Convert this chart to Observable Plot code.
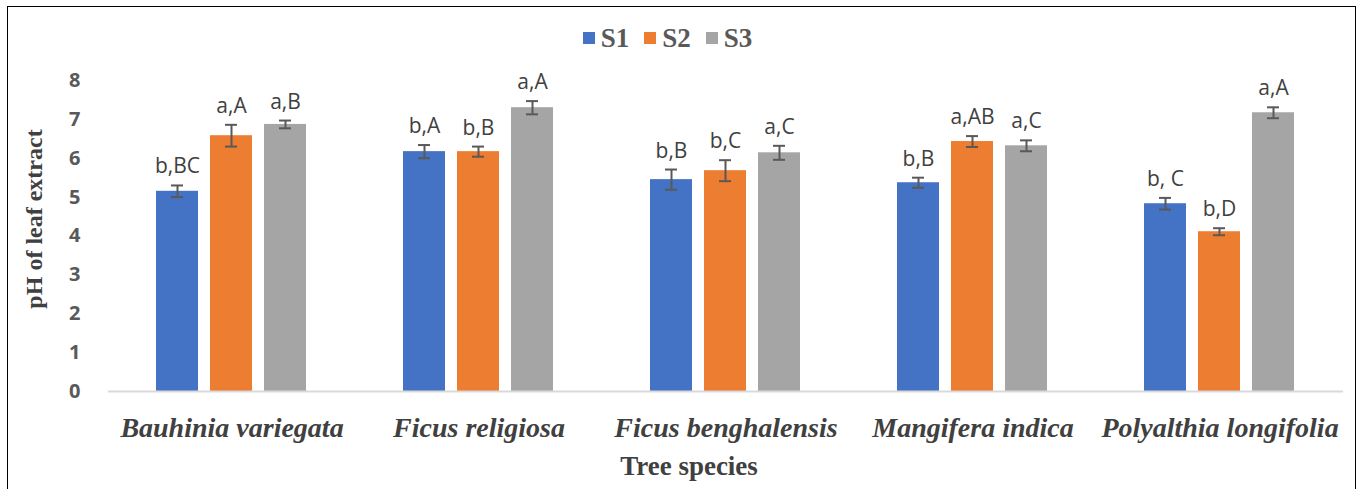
<!DOCTYPE html>
<html><head><meta charset="utf-8">
<script src="https://cdn.jsdelivr.net/npm/d3@7"></script>
<script src="https://cdn.jsdelivr.net/npm/@observablehq/plot@0.6"></script>
<style>
html,body{margin:0;padding:0;background:#fff;overflow:hidden;}
#frame{position:absolute;left:7px;top:6px;width:1347px;height:600px;border:1px solid #000;background:#fff;}
#legend{box-sizing:border-box;height:58px;padding-top:4px;display:flex;justify-content:center;align-items:center;gap:15px;transform:translateX(-14px);font-family:"Liberation Serif",serif;font-weight:bold;font-size:27px;color:#595959;}
.item{display:flex;align-items:center;gap:6px}
.sw{width:12px;height:12px;display:inline-block}
#chart svg{display:block}
</style></head><body>
<div id="frame"><div id="legend"></div><div id="chart"></div></div>
<script>
const species = ["Bauhinia variegata", "Ficus religiosa", "Ficus benghalensis", "Mangifera indica", "Polyalthia longifolia"];
const series = ["S1", "S2", "S3"];
const colors = ["#4472C4", "#ED7D31", "#A5A5A5"];
const meanS1 = [5.15, 6.17, 5.45, 5.37, 4.83];
const meanS2 = [6.58, 6.17, 5.68, 6.43, 4.11];
const meanS3 = [6.87, 7.30, 6.14, 6.32, 7.17];
const errS1 = [0.15, 0.17, 0.26, 0.13, 0.15];
const errS2 = [0.28, 0.13, 0.27, 0.14, 0.09];
const errS3 = [0.10, 0.17, 0.18, 0.14, 0.14];
const letS1 = ["b,BC", "b,A", "b,B", "b,B", "b, C"];
const letS2 = ["a,A", "b,B", "b,C", "a,AB", "b,D"];
const letS3 = ["a,B", "a,A", "a,C", "a,C", "a,A"];
const yTicks = [0, 1, 2, 3, 4, 5, 6, 7, 8];
const yTitle = "pH of leaf extract";
const xTitle = "Tree species";

const means = [meanS1, meanS2, meanS3];
const errs = [errS1, errS2, errS3];
const lets = [letS1, letS2, letS3];
const data = [];
species.forEach((sp, i) => {
  series.forEach((s, j) => {
    data.push({species: sp, series: s, mean: means[j][i], err: errs[j][i], label: lets[j][i]});
  });
});

// legend
const legend = document.getElementById("legend");
series.forEach((s, j) => {
  const it = document.createElement("span");
  it.className = "item";
  const sw = document.createElement("span");
  sw.className = "sw";
  sw.style.background = colors[j];
  const t = document.createElement("span");
  t.textContent = s;
  it.appendChild(sw); it.appendChild(t);
  legend.appendChild(it);
});

const errStyle = {stroke: "#595959", strokeWidth: 2};
const titleStyle = {fontWeight: "bold", fontFamily: "Liberation Serif", fill: "#404040", lineAnchor: "middle", textAnchor: "middle"};
const chart = Plot.plot({
  width: 1347, height: 430,
  marginTop: 15, marginBottom: 104, marginLeft: 100, marginRight: 12,
  fx: {domain: species, paddingInner: 0, paddingOuter: 0, label: null, axis: null},
  x: {domain: series, paddingInner: 0.218, paddingOuter: 0.855, axis: null},
  y: {domain: [0, 8], axis: null},
  color: {domain: series, range: colors},
  marks: [
    Plot.barY(data, {fx: "species", x: "series", y: "mean", fill: "series"}),
    Plot.ruleY([0], {stroke: "#d9d9d9", strokeWidth: 2}),
    Plot.ruleX(data, {fx: "species", x: "series", y1: d => d.mean - d.err, y2: d => d.mean + d.err, ...errStyle}),
    Plot.tickY(data, {fx: "species", x: "series", y: d => d.mean - d.err, insetLeft: 15, insetRight: 15, ...errStyle}),
    Plot.tickY(data, {fx: "species", x: "series", y: d => d.mean + d.err, insetLeft: 15, insetRight: 15, ...errStyle}),
    Plot.text(data, {fx: "species", x: "series", y: d => d.mean + d.err, text: "label", lineAnchor: "bottom", dy: -12,
      fontSize: 21, fontFamily: "Open Sans", fill: "#404040"}),
    Plot.axisY({ticks: yTicks, tickSize: 0, tickPadding: 28, fontSize: 20, fontWeight: "bold",
      fontFamily: "Open Sans", color: "#595959", label: null}),
    Plot.axisFx({anchor: "bottom", tickSize: 0, tickPadding: 26, fontSize: 28, fontStyle: "italic", fontWeight: "bold",
      fontFamily: "Liberation Serif", color: "#404040", label: null}),
    Plot.text([{fx: species[0], t: yTitle}], {fx: "fx", text: "t", frameAnchor: "left", rotate: -90,
      dx: -74, dy: -17, fontSize: 24, ...titleStyle}),
    Plot.text([{fx: species[2], t: xTitle}], {fx: "fx", text: "t", frameAnchor: "bottom",
      dx: -37, dy: 75, fontSize: 27, ...titleStyle})
  ]
});
document.getElementById("chart").appendChild(chart);
</script>
</body></html>
